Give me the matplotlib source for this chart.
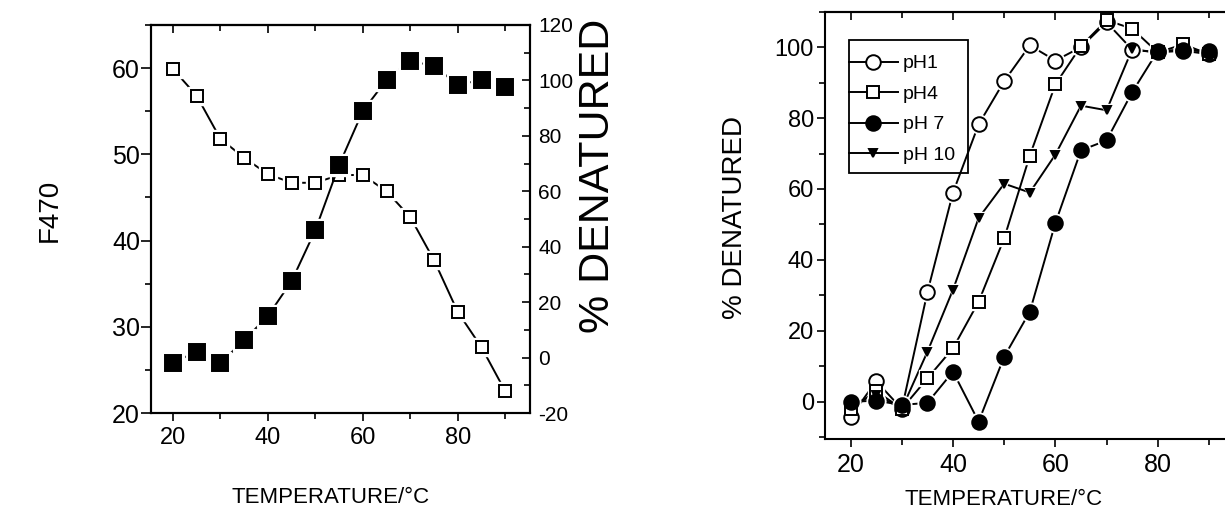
import numpy as np
import matplotlib
matplotlib.use('Agg')
import matplotlib.pyplot as plt
from matplotlib.ticker import MultipleLocator
from matplotlib.patches import Rectangle

plt.rcParams['font.family'] = ['Liberation Sans', 'DejaVu Sans']
plt.rcParams['axes.unicode_minus'] = False

# ---- data, left panel
temp = [20, 25, 30, 35, 40, 45, 50, 55, 60, 65, 70, 75, 80, 85, 90]
f470 = [59.9, 56.8, 51.8, 49.6, 47.7, 46.7, 46.7, 47.6, 47.6, 45.7, 42.7, 37.7, 31.7, 27.6, 22.5]
denat = [-1.8, 2.1, -2.0, 6.3, 15.0, 27.6, 46.0, 69.5, 89.0, 100.2, 107.0, 105.2, 98.4, 100.2, 97.8]

# ---- data, right panel
ph_labels = ['pH1', 'pH4', 'pH 7', 'pH 10']
ph1 = [-4.2, 5.8, -2.0, 30.9, 59.0, 78.2, 90.4, 100.5, 96.2, 100.0, 107.0, 99.3, 98.5, 99.0, 98.0]
ph4 = [-2.0, 3.0, -2.0, 6.6, 15.1, 28.2, 46.1, 69.4, 89.5, 100.3, 107.6, 105.2, 98.5, 100.8, 98.0]
ph7 = [0.0, 0.3, -0.9, -0.3, 8.5, -5.6, 12.7, 25.4, 50.4, 70.9, 73.7, 87.3, 98.9, 99.2, 98.9]
ph10 = [-1.0, 2.0, -2.0, 14.1, 31.6, 51.8, 61.5, 59.0, 69.7, 83.5, 82.2, 99.4, 98.5, 99.5, 98.5]


def gapped(ax, x, y, marker, ms, mfc, label=None, halo=5, z=2):
    # Origin-like: line broken around each marker
    ax.plot(x, y, '-', color='black', lw=1.4, zorder=z)
    ax.plot(x, y, ls='none', marker=marker, ms=ms + halo, mfc='white', mec='white', zorder=z + 0.1)
    ax.plot(x, y, ls='none', marker=marker, ms=ms, mfc=mfc, mec='black', mew=1.4, zorder=z + 0.2)
    h, = ax.plot([], [], '-', color='black', lw=1.4, marker=marker, ms=ms, mfc=mfc, mec='black', mew=1.4, label=label)
    return h


def ticks(ax, axis, direction, major=6, minor=4):
    ax.tick_params(axis=axis, which='both', direction=direction, width=1.2)
    ax.tick_params(axis=axis, which='major', length=major)
    ax.tick_params(axis=axis, which='minor', length=minor)


fig = plt.figure(figsize=(12.25, 5.26), dpi=100)

# ---------------- LEFT PANEL
ax1 = fig.add_axes([0.1233, 0.2148, 0.3094, 0.7377])
ax2 = ax1.twinx()
gapped(ax1, temp, f470, 's', 8.3, 'white')
gapped(ax2, temp, denat, 's', 12, 'black', halo=4)

ax1.set_xlim(15.4, 95.2)
ax1.set_ylim(20, 65)
ax2.set_ylim(-20, 120)
ax1.set_xticks([20, 40, 60, 80])
ax1.xaxis.set_minor_locator(MultipleLocator(10))
ax1.set_yticks([20, 30, 40, 50, 60])
ax1.yaxis.set_minor_locator(MultipleLocator(5))
ax2.yaxis.set_major_locator(MultipleLocator(20))
ax2.yaxis.set_minor_locator(MultipleLocator(10))
ticks(ax1, 'x', 'out')
ticks(ax1, 'y', 'out', 7, 4)
ticks(ax2, 'y', 'in')
ax1.tick_params(axis='x', labelsize=17, pad=4)
ax1.tick_params(axis='y', labelsize=18, pad=1)
ax2.tick_params(axis='y', labelsize=15, pad=6)
top1 = ax1.secondary_xaxis('top')
top1.set_xticks([20, 40, 60, 80])
top1.xaxis.set_minor_locator(MultipleLocator(10))
ticks(top1, 'x', 'in')
top1.tick_params(axis='x', labeltop=False)
for a in (ax1, ax2, top1):
    for s in a.spines.values():
        s.set_linewidth(1.5)

fig.text(0.041, 0.60, 'F470', rotation=90, fontsize=20, ha='center', va='center')
fig.text(0.488, 0.665, '% DENATURED', rotation=90, fontsize=31, ha='center', va='center')
fig.text(0.27, 0.055, 'TEMPERATURE/\u00b0C', fontsize=16, ha='center', va='center')

# ---------------- RIGHT PANEL
ax3 = fig.add_axes([0.6735, 0.1654, 0.3343, 0.8124])
hs = []
hs.append(gapped(ax3, temp, ph1, 'o', 10.5, 'white', ph_labels[0], halo=3))
hs.append(gapped(ax3, temp, ph4, 's', 8.5, 'white', ph_labels[1], halo=3))
hs.append(gapped(ax3, temp, ph7, 'o', 10.5, 'black', ph_labels[2], halo=3))
hs.append(gapped(ax3, temp, ph10, 'v', 5.5, 'black', ph_labels[3], halo=3))

ax3.set_xlim(15, 95)
ax3.set_ylim(-10.5, 110)
ax3.set_xticks([20, 40, 60, 80])
ax3.xaxis.set_minor_locator(MultipleLocator(10))
ax3.set_yticks([0, 20, 40, 60, 80, 100])
ax3.yaxis.set_minor_locator(MultipleLocator(10))
ticks(ax3, 'x', 'out')
ticks(ax3, 'y', 'out')
ax3.tick_params(axis='x', labelsize=18, pad=4)
ax3.tick_params(axis='y', labelsize=17, pad=2)
top3 = ax3.secondary_xaxis('top')
top3.set_xticks([20, 40, 60, 80])
top3.xaxis.set_minor_locator(MultipleLocator(10))
ticks(top3, 'x', 'in')
top3.tick_params(axis='x', labeltop=False)
for a in (ax3, top3):
    for s in a.spines.values():
        s.set_linewidth(1.5)

# Origin-style legend: handle lines start at the box edge
leg = ax3.legend(handles=hs, loc='upper left', bbox_to_anchor=(0.0586, 0.899),
                 fontsize=14, frameon=False, handlelength=2.5,
                 handletextpad=0.25, borderpad=0, labelspacing=0.66, borderaxespad=0)
ax3.add_patch(Rectangle((0.0586, 0.6225), 0.2906, 0.3115, transform=ax3.transAxes,
                        fill=False, ec='black', lw=1.3, zorder=5))

fig.text(0.600, 0.587, '% DENATURED', rotation=90, fontsize=20, ha='center', va='center')
fig.text(0.819, 0.05, 'TEMPERATURE/\u00b0C', fontsize=16, ha='center', va='center')

fig.savefig('out.png', dpi=100)
